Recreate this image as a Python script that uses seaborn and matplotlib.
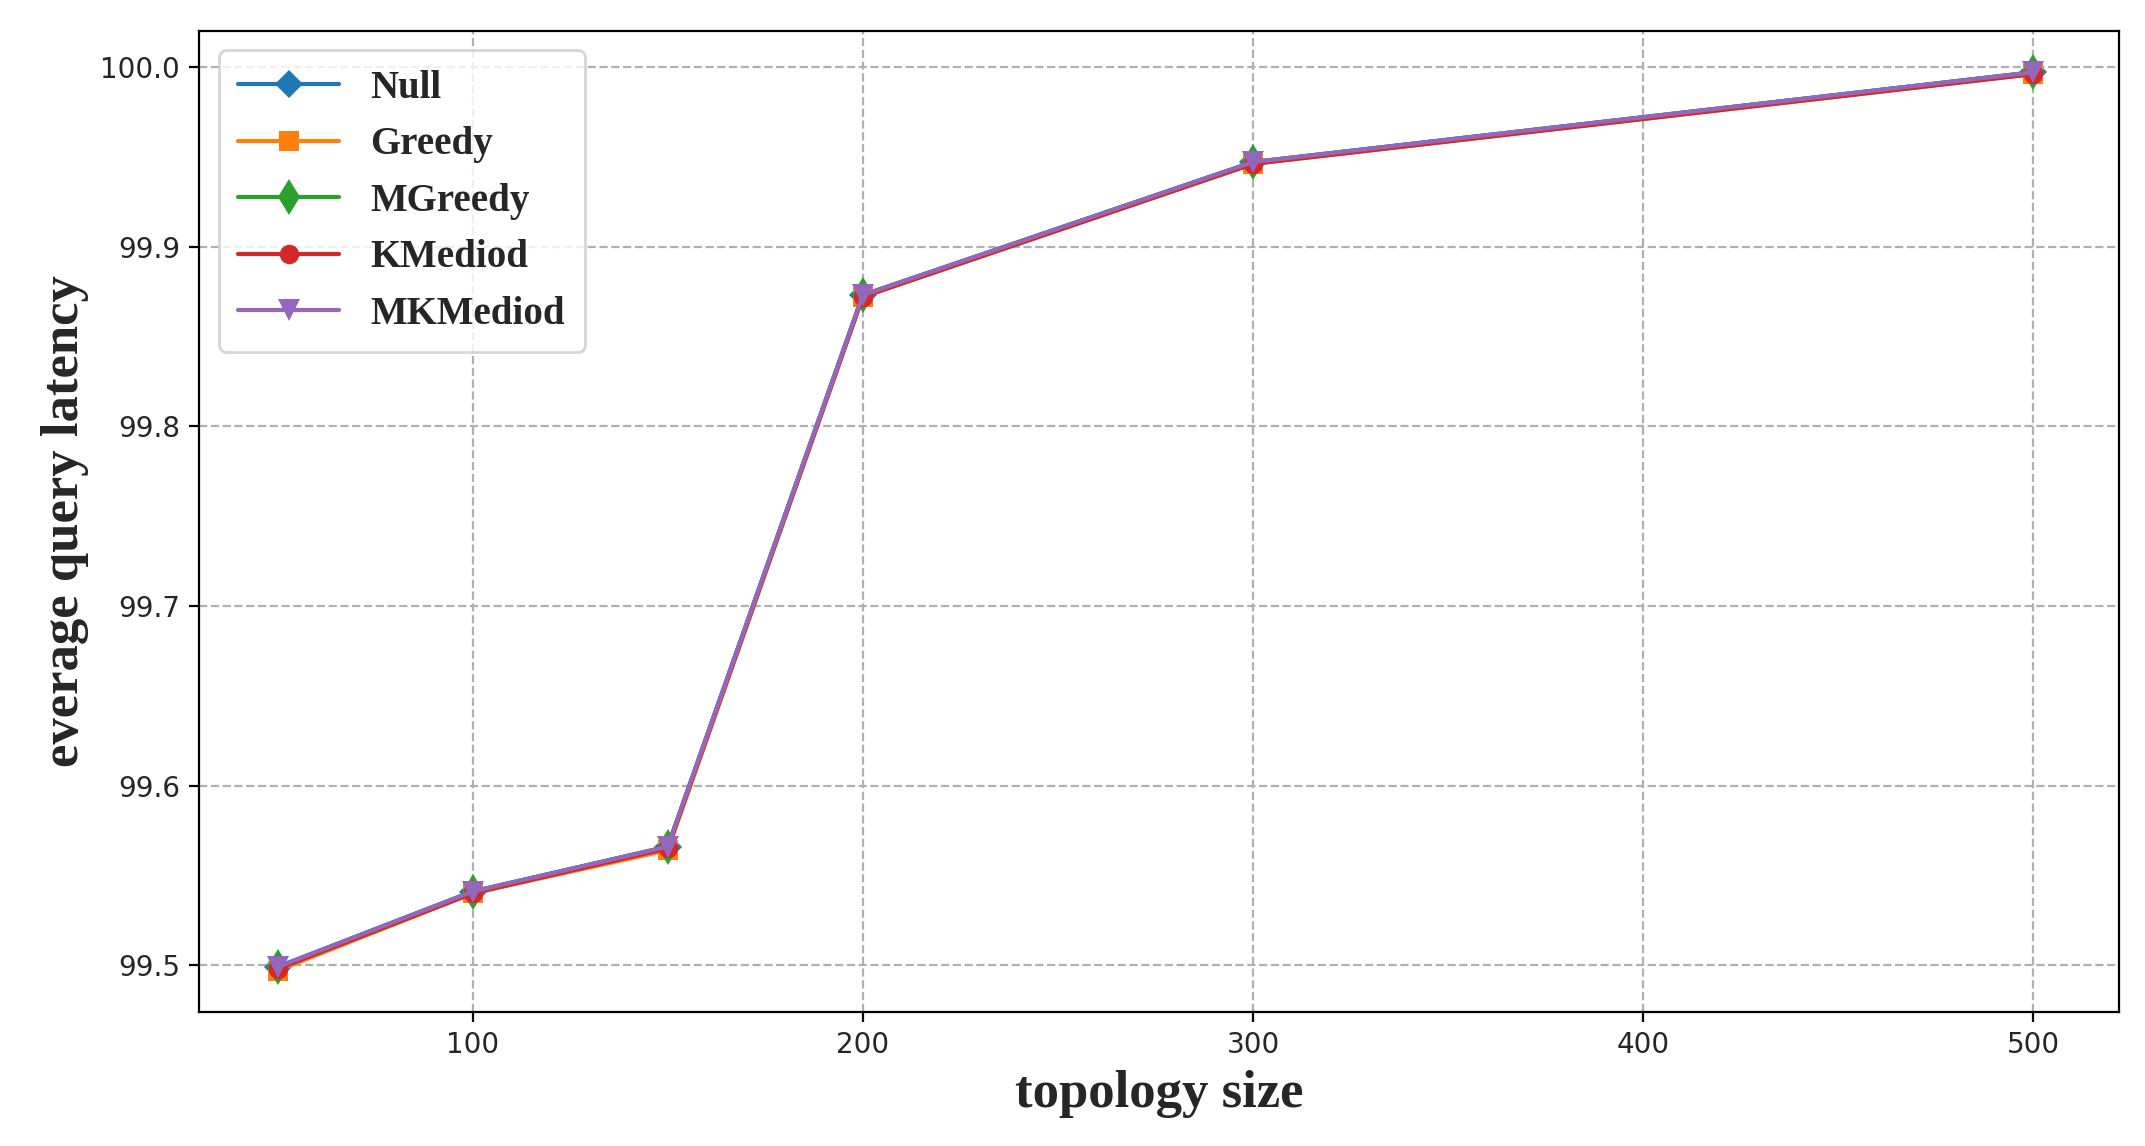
import pandas as pd
import matplotlib
matplotlib.use("Agg")
import matplotlib.pyplot as plt
import seaborn as sns

# topology sizes and latency per method
sizes = [50, 100, 150, 200, 300, 500]
null_vals = [99.499, 99.541, 99.566, 99.873, 99.947, 99.997]
greedy_vals = [99.497, 99.540, 99.564, 99.872, 99.946, 99.996]
mgreedy_vals = [99.499, 99.541, 99.566, 99.873, 99.947, 99.997]
kmediod_vals = [99.498, 99.540, 99.565, 99.872, 99.946, 99.996]
mkmediod_vals = [99.499, 99.541, 99.566, 99.873, 99.947, 99.997]

methods = ['Null', 'Greedy', 'MGreedy', 'KMediod', 'MKMediod']
markers = ['D', 's', 'd', 'o', 'v']
sizes_m = [7, 7, 9, 7, 8]

df = pd.DataFrame({'size': sizes * 5,
                   'latency': null_vals + greedy_vals + mgreedy_vals + kmediod_vals + mkmediod_vals,
                   'method': [m for m in methods for _ in sizes]})

sns.set_style("ticks")
fig, ax = plt.subplots(figsize=(10.725, 5.73), dpi=200)
fig.subplots_adjust(left=0.093, right=0.988, top=0.973, bottom=0.117)

palette = sns.color_palette("tab10", 5)
for i, m in enumerate(methods):
    sub = df[df['method'] == m]
    sns.lineplot(data=sub, x='size', y='latency', ax=ax, color=palette[i],
                 marker=markers[i], markersize=sizes_m[i], markeredgewidth=0,
                 label=m, linewidth=1.5)

ax.set_ylim(99.474, 100.02)
ax.set_xlim(30, 522)
ax.set_xticks([100, 200, 300, 400, 500])
ax.set_yticks([99.5, 99.6, 99.7, 99.8, 99.9, 100.0])
ax.yaxis.set_major_formatter(matplotlib.ticker.FormatStrFormatter('%.1f'))
ax.grid(True, linestyle='--', color='#b0b0b0', linewidth=0.8)
for s in ax.spines.values():
    s.set_color('black')
ax.tick_params(labelsize=10, direction='out', length=3.5, color='black')

ax.set_xlabel('topology size', fontsize=19, fontweight='bold', family='Liberation Serif')
ax.set_ylabel('everage query latency', fontsize=19, fontweight='bold', family='Liberation Serif')

ax.legend(loc='upper left', prop={'family': 'Liberation Serif', 'weight': 'bold', 'size': 14},
          handlelength=2.6, labelspacing=0.5, borderpad=0.5, frameon=True)

plt.savefig('out.png')
